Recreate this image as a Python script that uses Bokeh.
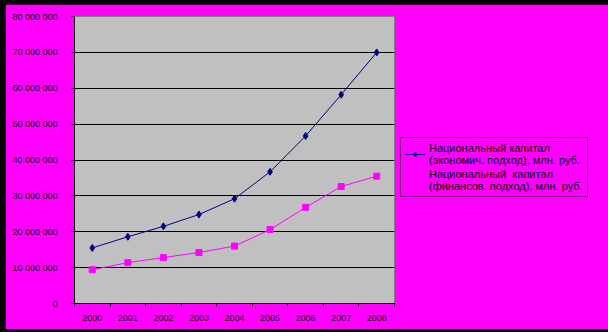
from bokeh.plotting import figure
from bokeh.models import Range1d, FixedTicker, Legend, LegendItem
from bokeh.embed import file_html
from bokeh.resources import INLINE

years = ["2000", "2001", "2002", "2003", "2004", "2005", "2006", "2007", "2008"]
econ = [15.5e6, 18.6e6, 21.5e6, 24.8e6, 29.2e6, 36.7e6, 46.7e6, 58.2e6, 70.0e6]
fin = [9.4e6, 11.4e6, 12.8e6, 14.2e6, 16.0e6, 20.6e6, 26.8e6, 32.6e6, 35.5e6]
y_ticks = [0, 10_000_000, 20_000_000, 30_000_000, 40_000_000, 50_000_000, 60_000_000, 70_000_000, 80_000_000]
label_econ = "Национальный капитал\n(экономич. подход), млн. руб."
label_fin = "Национальный  капитал\n(финансов. подход), млн. руб."

xs = [i + 0.5 for i in range(len(years))]
FONT = "Liberation Sans"

p = figure(width=598, height=325, output_backend="svg", toolbar_location=None,
           x_range=Range1d(0, len(years)), y_range=Range1d(0, 80e6),
           frame_width=320, frame_height=287,
           min_border_left=69, min_border_top=12, min_border_bottom=26, min_border_right=5)
p.background_fill_color = "#C0C0C0"
p.border_fill_color = "#FF00FF"
p.outline_line_color = "#808080"
p.outline_line_width = 1

# x axis
p.xaxis.ticker = FixedTicker(ticks=xs, minor_ticks=list(range(len(years) + 1)))
p.xaxis.major_label_overrides = {x: y for x, y in zip(xs, years)}
p.xaxis.major_tick_out = 0
p.xaxis.major_tick_in = 0
p.xaxis.minor_tick_out = 3
p.xaxis.minor_tick_in = 0
p.xaxis.minor_tick_line_color = "black"
p.xaxis.major_label_standoff = 8
p.xgrid.visible = False

# y axis
p.yaxis.ticker = FixedTicker(ticks=y_ticks)
p.yaxis.major_label_overrides = {v: f"{v:,}".replace(",", " ") for v in y_ticks}
p.yaxis.major_tick_out = 3
p.yaxis.major_tick_in = 0
p.yaxis.minor_tick_out = 0
p.yaxis.minor_tick_in = 0
p.yaxis.major_label_standoff = 14
p.ygrid.grid_line_color = "black"
p.ygrid.grid_line_width = 1

for ax in (p.xaxis, p.yaxis):
    ax.axis_line_color = "black"
    ax.axis_line_width = 1
    ax.major_tick_line_color = "black"
    ax.major_label_text_font = FONT
    ax.major_label_text_font_size = "9px"
    ax.major_label_text_color = "black"

l1 = p.line(xs, econ, line_color="#000080", line_width=1)
s1 = p.scatter(xs, econ, marker="diamond", size=7, fill_color="#000080", line_color="#000080")
l2 = p.line(xs, fin, line_color="#FF00FF", line_width=1)
s2 = p.scatter(xs, fin, marker="square", size=6, fill_color="#FF00FF", line_color="#FF00FF")

legend = Legend(items=[LegendItem(label=label_econ, renderers=[l1, s1]),
                       LegendItem(label=label_fin, renderers=[l2, s2])],
                location=(6, 106))
legend.border_line_color = "black"
legend.border_line_width = 1
legend.background_fill_color = "#FF00FF"
legend.background_fill_alpha = 1
legend.label_text_font = FONT
legend.label_text_font_size = "11px"
legend.label_text_color = "black"
legend.label_text_line_height = 1.1
legend.glyph_width = 20
legend.glyph_height = 12
legend.label_standoff = 4
legend.padding = 4
legend.spacing = 2
legend.margin = 0
p.add_layout(legend, "right")

html = file_html(p, INLINE)
css = ("<style>html { background: #000000; } "
       "body { background: #000000; margin: 0; padding: 4px 5px 3px 5px; }</style>\n</head>")
html = html.replace("</head>", css, 1)
open("out.html", "w").write(html)
